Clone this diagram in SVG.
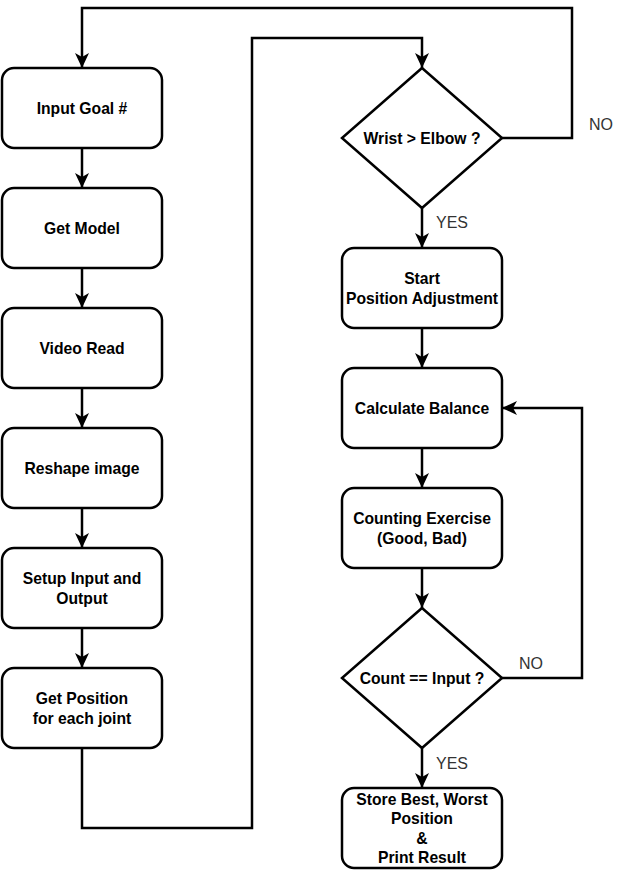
<svg xmlns="http://www.w3.org/2000/svg" width="632" height="870" viewBox="0 0 632 870">
<style>
.box{fill:#fff;stroke:#000;stroke-width:2.5}
.t{font-family:"Liberation Sans",Arial,sans-serif;font-weight:bold;font-size:15.7px;fill:#000;text-anchor:middle;dominant-baseline:central}
.lbl{font-family:"Liberation Sans",Arial,sans-serif;font-size:16px;fill:#333;dominant-baseline:central}
.c{fill:none;stroke:#000;stroke-width:2.5}
</style>
<defs>
<marker id="arr" markerUnits="userSpaceOnUse" viewBox="-16 -8 17 16" refX="0" refY="0" markerWidth="17" markerHeight="16" orient="auto">
<path d="M0,0 L-15,-7 L-11,0 L-15,7 Z" fill="#000"/>
</marker>
</defs>
<rect width="632" height="870" fill="#fff"/>
<g id="connectors">
<path class="c" d="M82,148 V188" marker-end="url(#arr)"/>
<path class="c" d="M82,268 V308" marker-end="url(#arr)"/>
<path class="c" d="M82,388 V428" marker-end="url(#arr)"/>
<path class="c" d="M82,508 V548" marker-end="url(#arr)"/>
<path class="c" d="M82,628 V668" marker-end="url(#arr)"/>
<path class="c" d="M82,748 V828 H252 V38 H422 V68" marker-end="url(#arr)"/>
<path class="c" d="M502,138 H572 V8 H82 V68" marker-end="url(#arr)"/>
<path class="c" d="M422,208 V248" marker-end="url(#arr)"/>
<path class="c" d="M422,328 V368" marker-end="url(#arr)"/>
<path class="c" d="M422,448 V488" marker-end="url(#arr)"/>
<path class="c" d="M422,568 V608" marker-end="url(#arr)"/>
<path class="c" d="M502,678 H582 V408 H502" marker-end="url(#arr)"/>
<path class="c" d="M422,748 V788" marker-end="url(#arr)"/>
<text class="lbl" x="589" y="124">NO</text>
<text class="lbl" x="436" y="222">YES</text>
<text class="lbl" x="519" y="663">NO</text>
<text class="lbl" x="436" y="763">YES</text>
</g>
<g id="n1"><rect class="box" x="2" y="68" width="160" height="80" rx="12"/><text class="t" x="82" y="108">Input Goal #</text></g>
<g id="n2"><rect class="box" x="2" y="188" width="160" height="80" rx="12"/><text class="t" x="82" y="228">Get Model</text></g>
<g id="n3"><rect class="box" x="2" y="308" width="160" height="80" rx="12"/><text class="t" x="82" y="348">Video Read</text></g>
<g id="n4"><rect class="box" x="2" y="428" width="160" height="80" rx="12"/><text class="t" x="82" y="468">Reshape image</text></g>
<g id="n5"><rect class="box" x="2" y="548" width="160" height="80" rx="12"/><text class="t" x="82" y="578">Setup Input and</text><text class="t" x="82" y="598">Output</text></g>
<g id="n6"><rect class="box" x="2" y="668" width="160" height="80" rx="12"/><text class="t" x="82" y="698">Get Position</text><text class="t" x="82" y="718">for each joint</text></g>
<g id="d1"><path class="box" d="M422,68 L502,138 L422,208 L342,138 Z"/><text class="t" x="422" y="138">Wrist &gt; Elbow ?</text></g>
<g id="n7"><rect class="box" x="342" y="248" width="160" height="80" rx="12"/><text class="t" x="422" y="278">Start</text><text class="t" x="422" y="298">Position Adjustment</text></g>
<g id="n8"><rect class="box" x="342" y="368" width="160" height="80" rx="12"/><text class="t" x="422" y="408">Calculate Balance</text></g>
<g id="n9"><rect class="box" x="342" y="488" width="160" height="80" rx="12"/><text class="t" x="422" y="518">Counting Exercise</text><text class="t" x="422" y="538">(Good, Bad)</text></g>
<g id="d2"><path class="box" d="M422,608 L502,678 L422,748 L342,678 Z"/><text class="t" x="422" y="678">Count == Input ?</text></g>
<g id="n10"><rect class="box" x="342" y="788" width="160" height="80" rx="12"/><text class="t" x="422" y="799">Store Best, Worst</text><text class="t" x="422" y="818">Position</text><text class="t" x="422" y="838">&amp;</text><text class="t" x="422" y="857">Print Result</text></g>
</svg>
